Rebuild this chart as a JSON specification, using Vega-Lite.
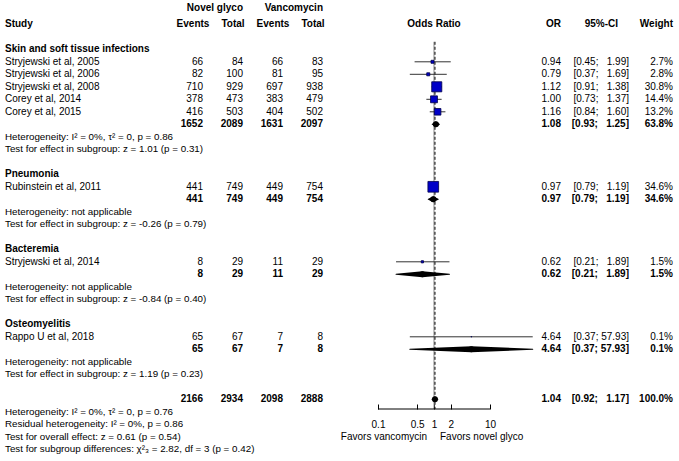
{
  "$schema": "https://vega.github.io/schema/vega-lite/v6.json",
  "padding": {"left": 5, "top": 0, "right": 6, "bottom": 0},
  "spacing": 0,
  "bounds": "flush",
  "config": {
    "view": {"stroke": null},
    "font": "Liberation Sans",
    "text": {"fontSize": 10, "color": "#000", "baseline": "middle"},
    "concat": {"spacing": 0}
  },
  "datasets": {
    "studies": [
      {"row": 1, "study": "Stryjewski et al, 2005", "kind": "study", "e1": 66, "n1": 84, "e2": 66, "n2": 83, "or": 0.94, "lo": 0.45, "hi": 1.99, "ci": "[0.45; \u00a0\u00a01.99]", "w": 0.027},
      {"row": 2, "study": "Stryjewski et al, 2006", "kind": "study", "e1": 82, "n1": 100, "e2": 81, "n2": 95, "or": 0.79, "lo": 0.37, "hi": 1.69, "ci": "[0.37; \u00a0\u00a01.69]", "w": 0.028},
      {"row": 3, "study": "Stryjewski et al, 2008", "kind": "study", "e1": 710, "n1": 929, "e2": 697, "n2": 938, "or": 1.12, "lo": 0.91, "hi": 1.38, "ci": "[0.91; \u00a0\u00a01.38]", "w": 0.308},
      {"row": 4, "study": "Corey et al, 2014", "kind": "study", "e1": 378, "n1": 473, "e2": 383, "n2": 479, "or": 1.0, "lo": 0.73, "hi": 1.37, "ci": "[0.73; \u00a0\u00a01.37]", "w": 0.144},
      {"row": 5, "study": "Corey et al, 2015", "kind": "study", "e1": 416, "n1": 503, "e2": 404, "n2": 502, "or": 1.16, "lo": 0.84, "hi": 1.6, "ci": "[0.84; \u00a0\u00a01.60]", "w": 0.132},
      {"row": 6, "study": "Skin and soft tissue infections", "kind": "subtotal", "e1": 1652, "n1": 2089, "e2": 1631, "n2": 2097, "or": 1.08, "lo": 0.93, "hi": 1.25, "ci": "[0.93; \u00a0\u00a01.25]", "w": 0.638},
      {"row": 11, "study": "Rubinstein et al, 2011", "kind": "study", "e1": 441, "n1": 749, "e2": 449, "n2": 754, "or": 0.97, "lo": 0.79, "hi": 1.19, "ci": "[0.79; \u00a0\u00a01.19]", "w": 0.346},
      {"row": 12, "study": "Pneumonia", "kind": "subtotal", "e1": 441, "n1": 749, "e2": 449, "n2": 754, "or": 0.97, "lo": 0.79, "hi": 1.19, "ci": "[0.79; \u00a0\u00a01.19]", "w": 0.346},
      {"row": 17, "study": "Stryjewski et al, 2014", "kind": "study", "e1": 8, "n1": 29, "e2": 11, "n2": 29, "or": 0.62, "lo": 0.21, "hi": 1.89, "ci": "[0.21; \u00a0\u00a01.89]", "w": 0.015},
      {"row": 18, "study": "Bacteremia", "kind": "subtotal", "e1": 8, "n1": 29, "e2": 11, "n2": 29, "or": 0.62, "lo": 0.21, "hi": 1.89, "ci": "[0.21; \u00a0\u00a01.89]", "w": 0.015},
      {"row": 23, "study": "Rappo U et al, 2018", "kind": "study", "e1": 65, "n1": 67, "e2": 7, "n2": 8, "or": 4.64, "lo": 0.37, "hi": 57.93, "ci": "[0.37; 57.93]", "w": 0.001},
      {"row": 24, "study": "Osteomyelitis", "kind": "subtotal", "e1": 65, "n1": 67, "e2": 7, "n2": 8, "or": 4.64, "lo": 0.37, "hi": 57.93, "ci": "[0.37; 57.93]", "w": 0.001},
      {"row": 28, "study": "Overall", "kind": "overall", "e1": 2166, "n1": 2934, "e2": 2098, "n2": 2888, "or": 1.04, "lo": 0.92, "hi": 1.17, "ci": "[0.92; \u00a0\u00a01.17]", "w": 1.0}
    ],
    "labels": [
      {"row": 0, "kind": "group", "text": "Skin and soft tissue infections"},
      {"row": 7, "kind": "note", "text": "Heterogeneity: I² = 0%, τ² = 0, p = 0.86"},
      {"row": 8, "kind": "note", "text": "Test for effect in subgroup: z = 1.01 (p = 0.31)"},
      {"row": 10, "kind": "group", "text": "Pneumonia"},
      {"row": 13, "kind": "note", "text": "Heterogeneity: not applicable"},
      {"row": 14, "kind": "note", "text": "Test for effect in subgroup: z = -0.26 (p = 0.79)"},
      {"row": 16, "kind": "group", "text": "Bacteremia"},
      {"row": 19, "kind": "note", "text": "Heterogeneity: not applicable"},
      {"row": 20, "kind": "note", "text": "Test for effect in subgroup: z = -0.84 (p = 0.40)"},
      {"row": 22, "kind": "group", "text": "Osteomyelitis"},
      {"row": 25, "kind": "note", "text": "Heterogeneity: not applicable"},
      {"row": 26, "kind": "note", "text": "Test for effect in subgroup: z = 1.19 (p = 0.23)"},
      {"row": 29, "kind": "note", "text": "Heterogeneity: I² = 0%, τ² = 0, p = 0.76"},
      {"row": 30, "kind": "note", "text": "Residual heterogeneity: I² = 0%, p = 0.86"},
      {"row": 31, "kind": "note", "text": "Test for overall effect: z = 0.61 (p = 0.54)"},
      {"row": 32, "kind": "note", "text": "Test for subgroup differences: χ²₃ = 2.82, df = 3 (p = 0.42)"}
    ]
  },
  "hconcat": [
    {
      "width": 178, "height": 461,
      "layer": [
        {
          "data": {"name": "studies"},
          "transform": [{"filter": "datum.kind === 'study'"}],
          "mark": {"type": "text", "align": "left"},
          "encoding": {
            "x": {"datum": "s", "type": "nominal", "scale": {"type": "point", "padding": 0.5, "align": 0}, "axis": null},
            "y": {"field": "row", "type": "quantitative", "scale": {"domain": [-3.944, 32.936], "reverse": true, "nice": false, "zero": false}, "axis": null},
            "text": {"field": "study"}
          }
        },
        {
          "data": {"name": "labels"},
          "transform": [{"filter": "datum.kind === 'group'"}],
          "mark": {"type": "text", "align": "left", "fontWeight": "bold"},
          "encoding": {
            "x": {"datum": "s", "type": "nominal", "axis": null},
            "y": {"field": "row", "type": "quantitative", "axis": null},
            "text": {"field": "text"}
          }
        },
        {
          "data": {"name": "labels"},
          "transform": [{"filter": "datum.kind === 'note'"}],
          "mark": {"type": "text", "align": "left", "fontSize": 9.8},
          "encoding": {
            "x": {"datum": "s", "type": "nominal", "axis": null},
            "y": {"field": "row", "type": "quantitative", "axis": null},
            "text": {"field": "text"}
          }
        },
        {
          "data": {"values": [{"row": -2, "text": "Study"}]},
          "mark": {"type": "text", "align": "left", "fontWeight": "bold"},
          "encoding": {
            "x": {"datum": "s", "type": "nominal", "axis": null},
            "y": {"field": "row", "type": "quantitative", "axis": null},
            "text": {"field": "text"}
          }
        }
      ]
    },
    {
      "width": 160, "height": 461,
      "layer": [
        {
          "data": {"name": "studies"},
          "transform": [{"filter": "datum.kind === 'study'"}, {"fold": ["e1", "n1", "e2", "n2"], "as": ["key", "value"]}],
          "mark": {"type": "text", "align": "right"},
          "encoding": {
            "x": {"field": "key", "type": "nominal", "scale": {"type": "point", "domain": ["e1", "n1", "e2", "n2"], "padding": 0.5}, "axis": null},
            "y": {"field": "row", "type": "quantitative", "scale": {"domain": [-3.944, 32.936], "reverse": true, "nice": false, "zero": false}, "axis": null},
            "text": {"field": "value", "type": "quantitative", "format": "d"}
          }
        },
        {
          "data": {"name": "studies"},
          "transform": [{"filter": "datum.kind !== 'study'"}, {"fold": ["e1", "n1", "e2", "n2"], "as": ["key", "value"]}],
          "mark": {"type": "text", "align": "right", "fontWeight": "bold"},
          "encoding": {
            "x": {"field": "key", "type": "nominal", "axis": null},
            "y": {"field": "row", "type": "quantitative", "axis": null},
            "text": {"field": "value", "type": "quantitative", "format": "d"}
          }
        },
        {
          "data": {"values": [
            {"key": "e1", "row": -2, "text": "Events"},
            {"key": "n1", "row": -2, "text": "Total"},
            {"key": "e2", "row": -2, "text": "Events"},
            {"key": "n2", "row": -2, "text": "Total"}
          ]},
          "mark": {"type": "text", "align": "center", "fontWeight": "bold", "dx": -10},
          "encoding": {
            "x": {"field": "key", "type": "nominal", "axis": null},
            "y": {"field": "row", "type": "quantitative", "axis": null},
            "text": {"field": "text"}
          }
        },
        {
          "data": {"values": [
            {"key": "n1", "row": -3.28, "text": "Novel glyco"},
            {"key": "n2", "row": -3.28, "text": "Vancomycin"}
          ]},
          "mark": {"type": "text", "align": "right", "fontWeight": "bold"},
          "encoding": {
            "x": {"field": "key", "type": "nominal", "axis": null},
            "y": {"field": "row", "type": "quantitative", "axis": null},
            "text": {"field": "text"}
          }
        }
      ]
    },
    {
      "width": 196, "height": 409,
      "resolve": {"scale": {"size": "independent"}},
      "layer": [
        {
          "data": {"values": [{}]},
          "mark": {"type": "rule", "color": "#888", "strokeWidth": 1},
          "encoding": {
            "x": {"datum": 1, "type": "quantitative", "scale": {"type": "log", "domain": [0.023714, 74.99], "nice": false}, "axis": {
              "values": [0.1, 0.5, 1, 2, 10], "format": "~g", "domain": false, "grid": false,
              "ticks": true, "tickSize": -5, "tickColor": "#000", "tickWidth": 1,
              "labelPadding": 15, "labelFontSize": 10, "labelColor": "#000", "labelFont": "Liberation Sans",
              "labelFlush": false, "labelOverlap": false, "title": null, "orient": "bottom"}},
            "y": {"datum": -0.6, "type": "quantitative", "scale": {"domain": [-3.944, 28.776], "reverse": true, "nice": false, "zero": false}, "axis": null},
            "y2": {"datum": 28.776}
          }
        },
        {
          "data": {"name": "studies"},
          "transform": [{"filter": "datum.kind === 'overall'"}],
          "mark": {"type": "rule", "color": "#000", "strokeWidth": 1, "strokeDash": [3, 2]},
          "encoding": {
            "x": {"field": "or", "type": "quantitative"},
            "y": {"datum": -0.6, "type": "quantitative", "axis": null},
            "y2": {"datum": 28.776}
          }
        },
        {
          "data": {"values": [{}]},
          "mark": {"type": "rule", "color": "#000", "strokeWidth": 1},
          "encoding": {
            "x": {"datum": 0.1, "type": "quantitative"},
            "x2": {"datum": 10},
            "y": {"datum": 28.776, "type": "quantitative", "axis": null}
          }
        },
        {
          "data": {"name": "studies"},
          "transform": [{"filter": "datum.kind === 'study'"}],
          "mark": {"type": "rule", "color": "#333", "strokeWidth": 1},
          "encoding": {
            "x": {"field": "lo", "type": "quantitative"},
            "x2": {"field": "hi"},
            "y": {"field": "row", "type": "quantitative", "axis": null}
          }
        },
        {
          "data": {"name": "studies"},
          "transform": [{"filter": "datum.kind === 'study'"}],
          "mark": {"type": "point", "shape": "square", "filled": true, "fill": "#0000c8", "stroke": "#00004a", "strokeWidth": 0.8, "opacity": 1},
          "encoding": {
            "x": {"field": "or", "type": "quantitative"},
            "y": {"field": "row", "type": "quantitative", "axis": null},
            "size": {"field": "w", "type": "quantitative", "scale": {"domain": [0, 1], "range": [0, 331]}, "legend": null}
          }
        },
        {
          "data": {"name": "studies"},
          "transform": [{"filter": "datum.kind !== 'study'"}, {"fold": ["lo", "or"], "as": ["k", "v"]}],
          "mark": {"type": "trail", "color": "#000"},
          "encoding": {
            "x": {"field": "v", "type": "quantitative"},
            "y": {"field": "row", "type": "quantitative", "axis": null},
            "detail": {"field": "row", "type": "nominal"},
            "order": {"field": "v", "type": "quantitative"},
            "size": {"field": "k", "type": "ordinal", "scale": {"type": "point", "domain": ["lo", "or"], "range": [0, 6], "padding": 0}, "legend": null}
          }
        },
        {
          "data": {"name": "studies"},
          "transform": [{"filter": "datum.kind !== 'study'"}, {"fold": ["or", "hi"], "as": ["k", "v"]}],
          "mark": {"type": "trail", "color": "#000"},
          "encoding": {
            "x": {"field": "v", "type": "quantitative"},
            "y": {"field": "row", "type": "quantitative", "axis": null},
            "detail": {"field": "row", "type": "nominal"},
            "order": {"field": "v", "type": "quantitative"},
            "size": {"field": "k", "type": "ordinal", "scale": {"type": "point", "domain": ["hi", "or"], "range": [0, 6], "padding": 0}, "legend": null}
          }
        },
        {
          "data": {"values": [{"text": "Odds Ratio"}]},
          "mark": {"type": "text", "align": "center", "fontWeight": "bold"},
          "encoding": {
            "x": {"datum": 1, "type": "quantitative"},
            "y": {"datum": -2, "type": "quantitative", "axis": null},
            "text": {"field": "text"}
          }
        },
        {
          "data": {"values": [{"text": "Favors vancomycin"}]},
          "mark": {"type": "text", "align": "right", "dx": -7},
          "encoding": {
            "x": {"datum": 1, "type": "quantitative"},
            "y": {"datum": 31.0, "type": "quantitative", "axis": null},
            "text": {"field": "text"}
          }
        },
        {
          "data": {"values": [{"text": "Favors novel glyco"}]},
          "mark": {"type": "text", "align": "left", "dx": 6},
          "encoding": {
            "x": {"datum": 1, "type": "quantitative"},
            "y": {"datum": 31.0, "type": "quantitative", "axis": null},
            "text": {"field": "text"}
          }
        }
      ]
    },
    {
      "width": 22, "height": 461,
      "layer": [
        {
          "data": {"name": "studies"},
          "transform": [{"filter": "datum.kind === 'study'"}],
          "mark": {"type": "text", "align": "right"},
          "encoding": {
            "x": {"datum": "OR", "type": "nominal", "scale": {"type": "point", "padding": 0.5, "align": 1}, "axis": null},
            "y": {"field": "row", "type": "quantitative", "scale": {"domain": [-3.944, 32.936], "reverse": true, "nice": false, "zero": false}, "axis": null},
            "text": {"field": "or", "type": "quantitative", "format": ".2f"}
          }
        },
        {
          "data": {"name": "studies"},
          "transform": [{"filter": "datum.kind !== 'study'"}],
          "mark": {"type": "text", "align": "right", "fontWeight": "bold"},
          "encoding": {
            "x": {"datum": "OR", "type": "nominal", "axis": null},
            "y": {"field": "row", "type": "quantitative", "axis": null},
            "text": {"field": "or", "type": "quantitative", "format": ".2f"}
          }
        },
        {
          "data": {"values": [{"row": -2, "text": "OR"}]},
          "mark": {"type": "text", "align": "right", "fontWeight": "bold"},
          "encoding": {
            "x": {"datum": "OR", "type": "nominal", "axis": null},
            "y": {"field": "row", "type": "quantitative", "axis": null},
            "text": {"field": "text"}
          }
        }
      ]
    },
    {
      "width": 68, "height": 461,
      "layer": [
        {
          "data": {"name": "studies"},
          "transform": [{"filter": "datum.kind === 'study'"}],
          "mark": {"type": "text", "align": "right"},
          "encoding": {
            "x": {"datum": "CI", "type": "nominal", "scale": {"type": "point", "padding": 0.5, "align": 1}, "axis": null},
            "y": {"field": "row", "type": "quantitative", "scale": {"domain": [-3.944, 32.936], "reverse": true, "nice": false, "zero": false}, "axis": null},
            "text": {"field": "ci"}
          }
        },
        {
          "data": {"name": "studies"},
          "transform": [{"filter": "datum.kind !== 'study'"}],
          "mark": {"type": "text", "align": "right", "fontWeight": "bold"},
          "encoding": {
            "x": {"datum": "CI", "type": "nominal", "axis": null},
            "y": {"field": "row", "type": "quantitative", "axis": null},
            "text": {"field": "ci"}
          }
        },
        {
          "data": {"values": [{"row": -2, "text": "95%-CI"}]},
          "mark": {"type": "text", "align": "right", "fontWeight": "bold", "dx": -11},
          "encoding": {
            "x": {"datum": "CI", "type": "nominal", "axis": null},
            "y": {"field": "row", "type": "quantitative", "axis": null},
            "text": {"field": "text"}
          }
        }
      ]
    },
    {
      "width": 44, "height": 461,
      "layer": [
        {
          "data": {"name": "studies"},
          "transform": [{"filter": "datum.kind === 'study'"}],
          "mark": {"type": "text", "align": "right"},
          "encoding": {
            "x": {"datum": "W", "type": "nominal", "scale": {"type": "point", "padding": 0.5, "align": 1}, "axis": null},
            "y": {"field": "row", "type": "quantitative", "scale": {"domain": [-3.944, 32.936], "reverse": true, "nice": false, "zero": false}, "axis": null},
            "text": {"field": "w", "type": "quantitative", "format": ".1%"}
          }
        },
        {
          "data": {"name": "studies"},
          "transform": [{"filter": "datum.kind !== 'study'"}],
          "mark": {"type": "text", "align": "right", "fontWeight": "bold"},
          "encoding": {
            "x": {"datum": "W", "type": "nominal", "axis": null},
            "y": {"field": "row", "type": "quantitative", "axis": null},
            "text": {"field": "w", "type": "quantitative", "format": ".1%"}
          }
        },
        {
          "data": {"values": [{"row": -2, "text": "Weight"}]},
          "mark": {"type": "text", "align": "right", "fontWeight": "bold"},
          "encoding": {
            "x": {"datum": "W", "type": "nominal", "axis": null},
            "y": {"field": "row", "type": "quantitative", "axis": null},
            "text": {"field": "text"}
          }
        }
      ]
    }
  ]
}
